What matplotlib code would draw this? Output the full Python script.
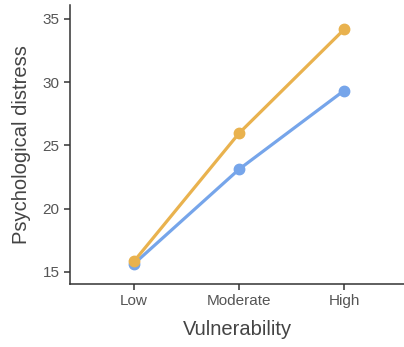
import matplotlib
matplotlib.use("Agg")
import matplotlib.pyplot as plt

plt.rcParams['font.family'] = ['Liberation Sans', 'DejaVu Sans']

categories = ['Low', 'Moderate', 'High']
series_orange = [15.85, 25.97, 34.17]
series_blue = [15.65, 23.12, 29.34]
yticks = [15, 20, 25, 30, 35]

fig = plt.figure(figsize=(4.04, 3.47), dpi=100)
ax = fig.add_axes([70/404, 1 - 284/347, 334/404, 279/347])

x = range(len(categories))
ax.plot(x, series_blue, color='#76A5EA', lw=2.3, marker='o', ms=7.5, solid_capstyle='round')
ax.plot(x, series_orange, color='#E9B24E', lw=2.3, marker='o', ms=7.5, solid_capstyle='round')

ax.set_xlim(-0.61, 2.57)
ax.set_ylim(14.05, 36.1)
ax.set_xticks(list(x))
ax.set_xticklabels(categories)
ax.set_yticks(yticks)

for s in ['top', 'right']:
    ax.spines[s].set_visible(False)
for s in ['left', 'bottom']:
    ax.spines[s].set_color('#333333')
    ax.spines[s].set_linewidth(1.1)
ax.tick_params(colors='#333333', labelcolor='#555555', labelsize=11, length=4, width=1.1)

ax.set_xlabel('Vulnerability', fontsize=14.5, color='#444444', labelpad=8)
ax.set_ylabel('Psychological distress', fontsize=14.5, color='#444444', labelpad=8)

fig.savefig('out.png', dpi=100)
